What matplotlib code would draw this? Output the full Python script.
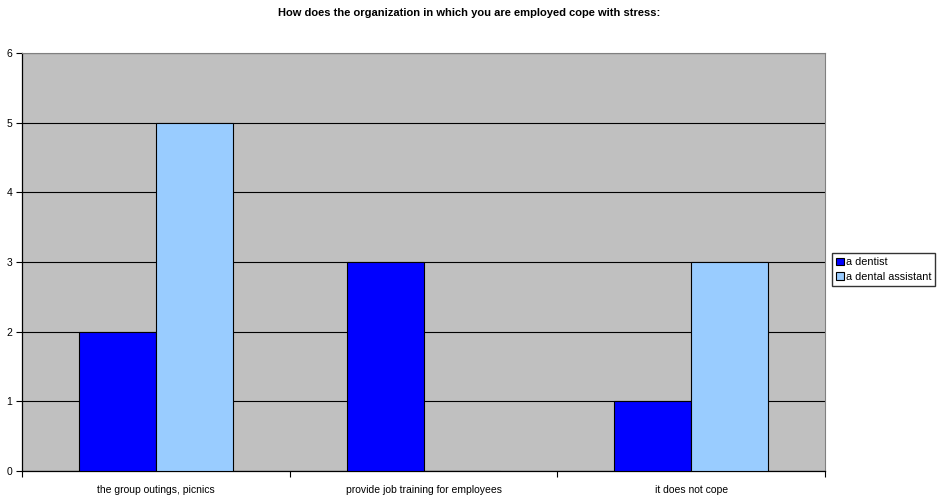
import numpy as np
import matplotlib.pyplot as plt

plt.rcParams['font.family'] = ['Liberation Sans', 'DejaVu Sans']

categories = ['the group outings, picnics', 'provide job training for employees', 'it does not cope']
dentist = [2, 3, 1]
assistant = [5, 0, 3]
series_names = ['a dentist', 'a dental assistant']

fig = plt.figure(figsize=(9.38, 4.98), dpi=100)
ax = fig.add_axes([0.0235, 0.0542, 0.856, 0.8394])
ax.set_facecolor('#c0c0c0')

x = np.arange(len(categories))
w = 0.287
ax.bar(x - w / 2, dentist, w, color='#0000ff', edgecolor='black', linewidth=0.8,
       label=series_names[0], zorder=3)
ax.bar(x + w / 2, assistant, w, color='#99ccff', edgecolor='black', linewidth=0.8,
       label=series_names[1], zorder=3)

ax.set_xlim(-0.5, len(categories) - 0.5)
ax.set_ylim(0, 6)
ax.set_yticks(range(0, 7))
ax.yaxis.grid(True, color='black', linewidth=0.8, zorder=1)
ax.set_axisbelow(True)

# category labels centered, tick marks on the category boundaries
ax.set_xticks(x)
ax.set_xticklabels(categories, fontsize=7.5)
ax.tick_params(axis='x', length=0, pad=10)
ax.set_xticks(np.arange(-0.5, len(categories)), minor=True)
ax.tick_params(axis='x', which='minor', length=4, direction='out', width=0.8)
ax.tick_params(axis='y', labelsize=7.5, length=4, width=0.8, pad=3)

ax.spines['top'].set_color('#808080')
ax.spines['right'].set_color('#808080')
for s in ['left', 'bottom']:
    ax.spines[s].set_color('black')
    ax.spines[s].set_linewidth(0.9)

fig.suptitle('How does the organization in which you are employed cope with stress:',
             fontsize=8, fontweight='bold', y=0.984)

fig.legend(loc='upper left', bbox_to_anchor=(0.887, 0.492), fontsize=7.8,
           frameon=True, fancybox=False, edgecolor='black', borderpad=0.4,
           handlelength=0.7, handleheight=0.7, handletextpad=0.15, labelspacing=0.4,
           borderaxespad=0)

fig.savefig('out.png', dpi=100)
